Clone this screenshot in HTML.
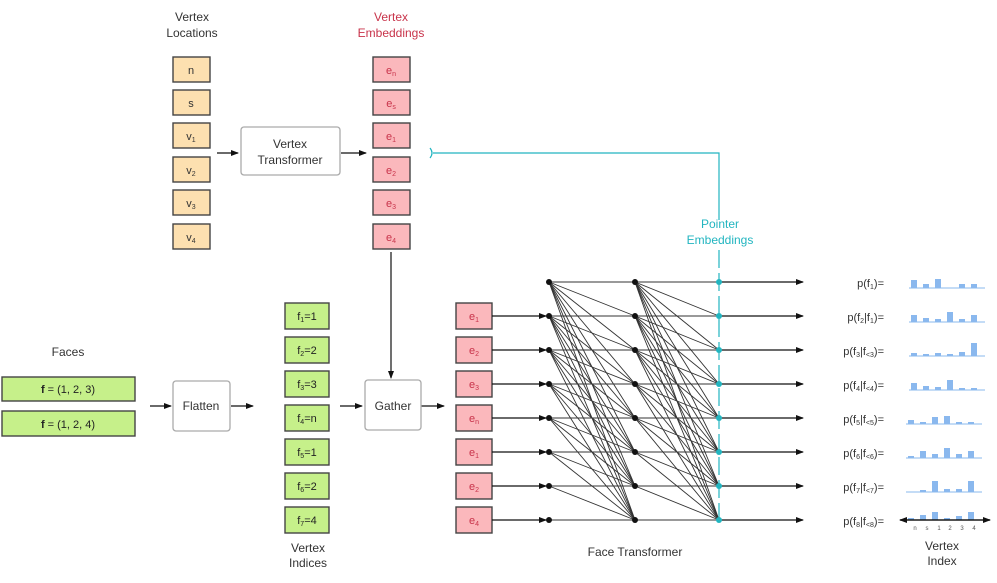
<!DOCTYPE html>
<html><head><meta charset="utf-8"><style>
html,body{margin:0;padding:0;background:#fff;}
svg{display:block;font-family:"Liberation Sans",sans-serif;}
</style></head><body>
<svg id="s" width="997" height="583" viewBox="0 0 997 583" xmlns="http://www.w3.org/2000/svg">
<defs>
<marker id="a" markerWidth="8" markerHeight="6" refX="7" refY="3" orient="auto" markerUnits="userSpaceOnUse"><path d="M0,0L8,3L0,6z" fill="#111"/></marker>
</defs>
<g font-size="12" fill="#333" text-anchor="middle">
<text x="192" y="21">Vertex</text><text x="192" y="37">Locations</text>
<text x="391" y="21" fill="#c8334a">Vertex</text><text x="391" y="37" fill="#c8334a">Embeddings</text>
<text x="68" y="356">Faces</text>
<text x="308" y="552">Vertex</text><text x="308" y="567">Indices</text>
<text x="635" y="556">Face Transformer</text>
<text x="942" y="550">Vertex</text><text x="942" y="565">Index</text>
<text x="720" y="228" fill="#22b5c0">Pointer</text><text x="720" y="244" fill="#22b5c0">Embeddings</text>
</g>
<g stroke="#444" stroke-width="1.4" fill="#fde0b0">
<rect x="173" y="57" width="37" height="25"/><rect x="173" y="90" width="37" height="25"/>
<rect x="173" y="123" width="37" height="25"/><rect x="173" y="157" width="37" height="25"/>
<rect x="173" y="190" width="37" height="25"/><rect x="173" y="224" width="37" height="25"/>
</g>
<g font-size="11" fill="#333" text-anchor="middle">
<text x="191" y="74">n</text><text x="191" y="107">s</text>
<text x="191" y="140">v<tspan font-size="7" dy="2">1</tspan></text>
<text x="191" y="174">v<tspan font-size="7" dy="2">2</tspan></text>
<text x="191" y="207">v<tspan font-size="7" dy="2">3</tspan></text>
<text x="191" y="241">v<tspan font-size="7" dy="2">4</tspan></text>
</g>
<g stroke="#444" stroke-width="1.4" fill="#fbb8bc">
<rect x="373" y="57" width="37" height="25"/><rect x="373" y="90" width="37" height="25"/>
<rect x="373" y="123" width="37" height="25"/><rect x="373" y="157" width="37" height="25"/>
<rect x="373" y="190" width="37" height="25"/><rect x="373" y="224" width="37" height="25"/>
</g>
<g font-size="11" fill="#c8334a" text-anchor="middle">
<text x="391" y="74">e<tspan font-size="7" dy="2">n</tspan></text>
<text x="391" y="107">e<tspan font-size="7" dy="2">s</tspan></text>
<text x="391" y="140">e<tspan font-size="7" dy="2">1</tspan></text>
<text x="391" y="174">e<tspan font-size="7" dy="2">2</tspan></text>
<text x="391" y="207">e<tspan font-size="7" dy="2">3</tspan></text>
<text x="391" y="241">e<tspan font-size="7" dy="2">4</tspan></text>
</g>
<rect x="241" y="127" width="99" height="48" rx="3" fill="#fff" stroke="#aaa" stroke-width="1.3"/>
<text x="290" y="148" font-size="12" fill="#333" text-anchor="middle">Vertex</text>
<text x="290" y="164" font-size="12" fill="#333" text-anchor="middle">Transformer</text>
<g stroke="#111" stroke-width="1.2" marker-end="url(#a)">
<line x1="217" y1="153" x2="238" y2="153"/><line x1="341" y1="153" x2="366" y2="153"/>
<line x1="391" y1="252" x2="391" y2="378"/>
<line x1="150" y1="406" x2="171" y2="406"/><line x1="231" y1="406" x2="253" y2="406"/>
<line x1="340" y1="406" x2="362" y2="406"/><line x1="421" y1="406" x2="444" y2="406"/>
</g>
<path d="M430,148 Q434,153 430,158" fill="none" stroke="#22b5c0" stroke-width="1.2"/>
<path d="M433,153 H719 V220" fill="none" stroke="#22b5c0" stroke-width="1.2"/>
<line x1="719" y1="250" x2="719" y2="522" stroke="#22b5c0" stroke-width="1.2" stroke-dasharray="18,5"/>
<g stroke="#444" stroke-width="1.4" fill="#c6f08a">
<rect x="2" y="377" width="133" height="24"/><rect x="2" y="411" width="133" height="25"/>
</g>
<g font-size="11" fill="#222" text-anchor="middle">
<text x="68" y="393"><tspan font-weight="bold">f</tspan> = (1, 2, 3)</text>
<text x="68" y="428"><tspan font-weight="bold">f</tspan> = (1, 2, 4)</text>
</g>
<rect x="173" y="381" width="57" height="50" rx="3" fill="#fff" stroke="#aaa" stroke-width="1.3"/>
<text x="201" y="410" font-size="12" fill="#333" text-anchor="middle">Flatten</text>
<rect x="365" y="380" width="56" height="50" rx="3" fill="#fff" stroke="#aaa" stroke-width="1.3"/>
<text x="393" y="410" font-size="12" fill="#333" text-anchor="middle">Gather</text>
<g stroke="#444" stroke-width="1.4" fill="#c6f08a">
<rect x="285" y="303" width="44" height="26"/><rect x="285" y="337" width="44" height="26"/>
<rect x="285" y="371" width="44" height="26"/><rect x="285" y="405" width="44" height="26"/>
<rect x="285" y="439" width="44" height="26"/><rect x="285" y="473" width="44" height="26"/>
<rect x="285" y="507" width="44" height="26"/>
</g>
<g font-size="11" fill="#222" text-anchor="middle">
<text x="307" y="320">f<tspan font-size="7" dy="2">1</tspan><tspan dy="-2">=1</tspan></text>
<text x="307" y="354">f<tspan font-size="7" dy="2">2</tspan><tspan dy="-2">=2</tspan></text>
<text x="307" y="388">f<tspan font-size="7" dy="2">3</tspan><tspan dy="-2">=3</tspan></text>
<text x="307" y="422">f<tspan font-size="7" dy="2">4</tspan><tspan dy="-2">=n</tspan></text>
<text x="307" y="456">f<tspan font-size="7" dy="2">5</tspan><tspan dy="-2">=1</tspan></text>
<text x="307" y="490">f<tspan font-size="7" dy="2">6</tspan><tspan dy="-2">=2</tspan></text>
<text x="307" y="524">f<tspan font-size="7" dy="2">7</tspan><tspan dy="-2">=4</tspan></text>
</g>
<g stroke="#444" stroke-width="1.4" fill="#fbb8bc">
<rect x="456" y="303" width="36" height="26"/><rect x="456" y="337" width="36" height="26"/>
<rect x="456" y="371" width="36" height="26"/><rect x="456" y="405" width="36" height="26"/>
<rect x="456" y="439" width="36" height="26"/><rect x="456" y="473" width="36" height="26"/>
<rect x="456" y="507" width="36" height="26"/>
</g>
<g font-size="11" fill="#c8334a" text-anchor="middle">
<text x="474" y="320">e<tspan font-size="7" dy="2">1</tspan></text>
<text x="474" y="354">e<tspan font-size="7" dy="2">2</tspan></text>
<text x="474" y="388">e<tspan font-size="7" dy="2">3</tspan></text>
<text x="474" y="422">e<tspan font-size="7" dy="2">n</tspan></text>
<text x="474" y="456">e<tspan font-size="7" dy="2">1</tspan></text>
<text x="474" y="490">e<tspan font-size="7" dy="2">2</tspan></text>
<text x="474" y="524">e<tspan font-size="7" dy="2">4</tspan></text>
</g>
<g id="mesh" stroke="#333" stroke-width="0.9" fill="none"></g>
<g id="nodes"></g>
<g font-size="11" fill="#333" text-anchor="end">
<text x="884" y="287">p(f<tspan font-size="7" dy="2">1</tspan><tspan dy="-2">)=</tspan></text>
<text x="884" y="321">p(f<tspan font-size="7" dy="2">2</tspan><tspan dy="-2">|f</tspan><tspan font-size="7" dy="2">1</tspan><tspan dy="-2">)=</tspan></text>
<text x="884" y="355">p(f<tspan font-size="7" dy="2">3</tspan><tspan dy="-2">|f</tspan><tspan font-size="7" dy="2">&lt;3</tspan><tspan dy="-2">)=</tspan></text>
<text x="884" y="389">p(f<tspan font-size="7" dy="2">4</tspan><tspan dy="-2">|f</tspan><tspan font-size="7" dy="2">&lt;4</tspan><tspan dy="-2">)=</tspan></text>
<text x="884" y="423">p(f<tspan font-size="7" dy="2">5</tspan><tspan dy="-2">|f</tspan><tspan font-size="7" dy="2">&lt;5</tspan><tspan dy="-2">)=</tspan></text>
<text x="884" y="457">p(f<tspan font-size="7" dy="2">6</tspan><tspan dy="-2">|f</tspan><tspan font-size="7" dy="2">&lt;6</tspan><tspan dy="-2">)=</tspan></text>
<text x="884" y="491">p(f<tspan font-size="7" dy="2">7</tspan><tspan dy="-2">|f</tspan><tspan font-size="7" dy="2">&lt;7</tspan><tspan dy="-2">)=</tspan></text>
<text x="884" y="525">p(f<tspan font-size="7" dy="2">8</tspan><tspan dy="-2">|f</tspan><tspan font-size="7" dy="2">&lt;8</tspan><tspan dy="-2">)=</tspan></text>
</g>
<g id="bars" fill="#8ab8ee"></g>
<line x1="900" y1="520" x2="990" y2="520" stroke="#111" stroke-width="1.2" marker-end="url(#a)"/>
<line x1="990" y1="520" x2="900" y2="520" stroke="#111" stroke-width="1.2" marker-end="url(#a)"/>
<g font-size="6" fill="#555" text-anchor="middle">
<text x="915" y="530">n</text><text x="927" y="530">s</text><text x="939" y="530">1</text><text x="950" y="530">2</text><text x="962" y="530">3</text><text x="974" y="530">4</text>
</g>
</svg>
<script>
var NS="http://www.w3.org/2000/svg";
function el(t,a,p){var e=document.createElementNS(NS,t);for(var k in a)e.setAttribute(k,a[k]);p.appendChild(e);return e;}
var rows=[282,316,350,384,418,452,486,520],c1=549,c2=635,c3=719;
var m=document.getElementById("mesh"),n=document.getElementById("nodes");
for(var i=0;i<8;i++){
 if(i>0)el("line",{x1:492,y1:rows[i],x2:546,y2:rows[i],stroke:"#111","stroke-width":1.2,"marker-end":"url(#a)"},m);
 el("line",{x1:c1,y1:rows[i],x2:c3,y2:rows[i]},m);
 el("line",{x1:c3,y1:rows[i],x2:803,y2:rows[i],stroke:"#111","stroke-width":1.2,"marker-end":"url(#a)"},m);
 for(var j=i+1;j<8;j++){
  el("line",{x1:c1,y1:rows[i],x2:c2,y2:rows[j]},m);
  el("line",{x1:c2,y1:rows[i],x2:c3,y2:rows[j]},m);
 }
 el("circle",{cx:c1,cy:rows[i],r:3,fill:"#111"},n);
 el("circle",{cx:c2,cy:rows[i],r:3,fill:"#111"},n);
 el("circle",{cx:c3,cy:rows[i],r:3,fill:"#22b5c0"},n);
}
var B=[[8,4,9,0,4,4],[7,4,3,10,3,7],[3,2,3,2,4,13],[7,4,3,10,2,2],[4,2,7,8,2,2],[2,7,4,10,4,7],[0,2,11,3,3,11],[2,5,8,2,4,8]];
var bg=document.getElementById("bars");
for(var r=0;r<8;r++){
 var base=rows[r]+(r==7?0:6), x0=(r<4?911:908);
 el("line",{x1:x0-2,y1:base,x2:x0+74,y2:base,stroke:"#8ab8ee","stroke-width":1},bg);
 for(var k=0;k<6;k++){var h=B[r][k];if(h>0)el("rect",{x:x0+k*12,y:base-h,width:6,height:h},bg);}
}
</script>
</body></html>
